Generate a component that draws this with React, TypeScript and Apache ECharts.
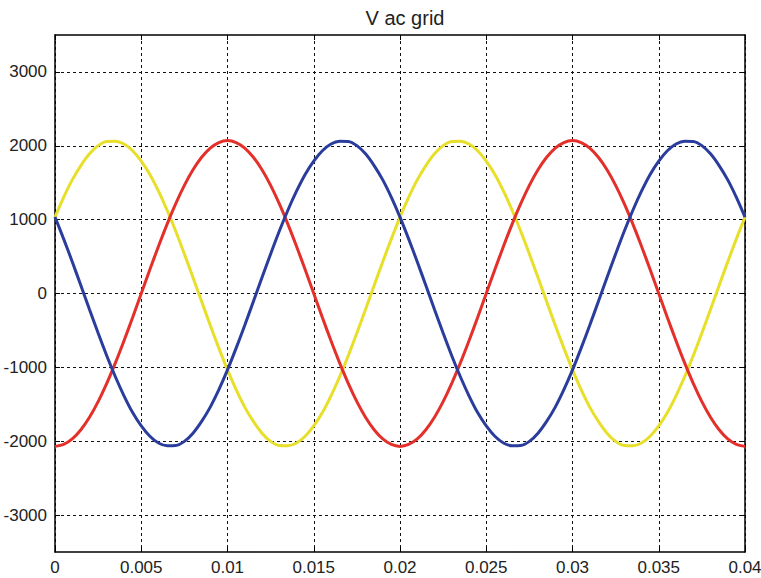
import React, { useEffect, useRef } from "react";
import * as echarts from "echarts";

// time in seconds, sampled every 0.5 ms
const timeValues: number[] = [
  0, 0.0005, 0.001, 0.0015, 0.002, 0.0025, 0.003, 0.0035, 0.004, 0.0045,
  0.005, 0.0055, 0.006, 0.0065, 0.007, 0.0075, 0.008, 0.0085, 0.009, 0.0095,
  0.01, 0.0105, 0.011, 0.0115, 0.012, 0.0125, 0.013, 0.0135, 0.014, 0.0145,
  0.015, 0.0155, 0.016, 0.0165, 0.017, 0.0175, 0.018, 0.0185, 0.019, 0.0195,
  0.02, 0.0205, 0.021, 0.0215, 0.022, 0.0225, 0.023, 0.0235, 0.024, 0.0245,
  0.025, 0.0255, 0.026, 0.0265, 0.027, 0.0275, 0.028, 0.0285, 0.029, 0.0295,
  0.03, 0.0305, 0.031, 0.0315, 0.032, 0.0325, 0.033, 0.0335, 0.034, 0.0345,
  0.035, 0.0355, 0.036, 0.0365, 0.037, 0.0375, 0.038, 0.0385, 0.039, 0.0395,
  0.04,
];

const yellowPhase: number[] = [
  1035, 1302, 1538, 1732, 1891, 2002, 2059, 2062, 2025, 1933,
  1793, 1612, 1385, 1127, 842, 535, 216, -108, -430, -740,
  -1035, -1302, -1538, -1732, -1891, -2002, -2059, -2062, -2025, -1933,
  -1793, -1612, -1385, -1127, -842, -535, -216, 108, 430, 740,
  1035, 1302, 1538, 1732, 1891, 2002, 2059, 2062, 2025, 1933,
  1793, 1612, 1385, 1127, 842, 535, 216, -108, -430, -740,
  -1035, -1302, -1538, -1732, -1891, -2002, -2059, -2062, -2025, -1933,
  -1793, -1612, -1385, -1127, -842, -535, -216, 108, 430, 740,
  1035,
];

const redPhase: number[] = [
  -2070, -2044, -1969, -1844, -1675, -1464, -1217, -940, -640, -324,
  0, 324, 640, 940, 1217, 1464, 1675, 1844, 1969, 2044,
  2070, 2044, 1969, 1844, 1675, 1464, 1217, 940, 640, 324,
  0, -324, -640, -940, -1217, -1464, -1675, -1844, -1969, -2044,
  -2070, -2044, -1969, -1844, -1675, -1464, -1217, -940, -640, -324,
  0, 324, 640, 940, 1217, 1464, 1675, 1844, 1969, 2044,
  2070, 2044, 1969, 1844, 1675, 1464, 1217, 940, 640, 324,
  0, -324, -640, -940, -1217, -1464, -1675, -1844, -1969, -2044,
  -2070,
];

const bluePhase: number[] = [
  1035, 740, 430, 108, -216, -535, -842, -1127, -1385, -1612,
  -1793, -1933, -2025, -2062, -2059, -2002, -1891, -1732, -1538, -1302,
  -1035, -740, -430, -108, 216, 535, 842, 1127, 1385, 1612,
  1793, 1933, 2025, 2062, 2059, 2002, 1891, 1732, 1538, 1302,
  1035, 740, 430, 108, -216, -535, -842, -1127, -1385, -1612,
  -1793, -1933, -2025, -2062, -2059, -2002, -1891, -1732, -1538, -1302,
  -1035, -740, -430, -108, 216, 535, 842, 1127, 1385, 1612,
  1793, 1933, 2025, 2062, 2059, 2002, 1891, 1732, 1538, 1302,
  1035,
];

const yTicks: number[] = [-3000, -2000, -1000, 0, 1000, 2000, 3000];

const FONT = "Liberation Sans, Arial, Helvetica, sans-serif";

export default function App() {
  const ref = useRef<HTMLDivElement>(null);
  useEffect(() => {
    if (!ref.current) return;
    const chart = echarts.init(ref.current, undefined, { renderer: "svg" });
    const pair = (arr: number[]) => timeValues.map((t, i) => [t, arr[i]]);
    const gridLine = {
      show: true,
      lineStyle: { color: "#111", width: 1, type: [3, 3] as number[] },
    };
    const baseX = {
      type: "value" as const,
      min: 0,
      max: 0.04,
      interval: 0.005,
      axisLine: { show: true, onZero: false, lineStyle: { color: "#000", width: 1.5 } },
      axisTick: { show: true, inside: true, length: 5, lineStyle: { color: "#000" } },
    };
    const baseY = {
      type: "value" as const,
      min: -3500,
      max: 3500,
      axisLine: { show: true, onZero: false, lineStyle: { color: "#000", width: 1.5 } },
      axisTick: {
        show: true,
        inside: true,
        length: 5,
        customValues: yTicks,
        lineStyle: { color: "#000" },
      },
    };
    chart.setOption({
      animation: false,
      backgroundColor: "#fff",
      title: {
        text: "V ac grid",
        left: 400,
        textAlign: "center",
        top: 3,
        textStyle: { fontFamily: FONT, fontSize: 20, fontWeight: "normal", color: "#222" },
      },
      grid: {
        left: 55,
        right: 16,
        top: 35,
        bottom: 26,
        containLabel: false,
        outerBoundsMode: "none",
      },
      xAxis: [
        {
          ...baseX,
          position: "bottom",
          splitLine: gridLine,
          axisLabel: {
            fontFamily: FONT,
            fontSize: 17,
            color: "#222",
            margin: 7,
            hideOverlap: false,
            formatter: (v: number) => String(parseFloat(v.toFixed(4))),
          },
        },
        {
          ...baseX,
          position: "top",
          splitLine: { show: false },
          axisLabel: { show: false },
        },
      ],
      yAxis: [
        {
          ...baseY,
          position: "left",
          splitLine: gridLine,
          axisLabel: {
            fontFamily: FONT,
            fontSize: 17,
            color: "#222",
            margin: 8,
            customValues: yTicks,
            formatter: (v: number) => String(v),
          },
        },
        {
          ...baseY,
          position: "right",
          splitLine: { show: false },
          axisLabel: { show: false },
        },
      ],
      series: [
        {
          type: "line",
          data: pair(yellowPhase),
          smooth: 0.3,
          showSymbol: false,
          lineStyle: { color: "#e8df2a", width: 3 },
        },
        {
          type: "line",
          data: pair(redPhase),
          smooth: 0.3,
          showSymbol: false,
          lineStyle: { color: "#e3302a", width: 3 },
        },
        {
          type: "line",
          data: pair(bluePhase),
          smooth: 0.3,
          showSymbol: false,
          lineStyle: { color: "#2b3d9c", width: 3 },
        },
      ],
    });
    return () => chart.dispose();
  }, []);
  return <div ref={ref} style={{ width: 761, height: 578, position: "absolute", left: 0, top: 0 }} />;
}
